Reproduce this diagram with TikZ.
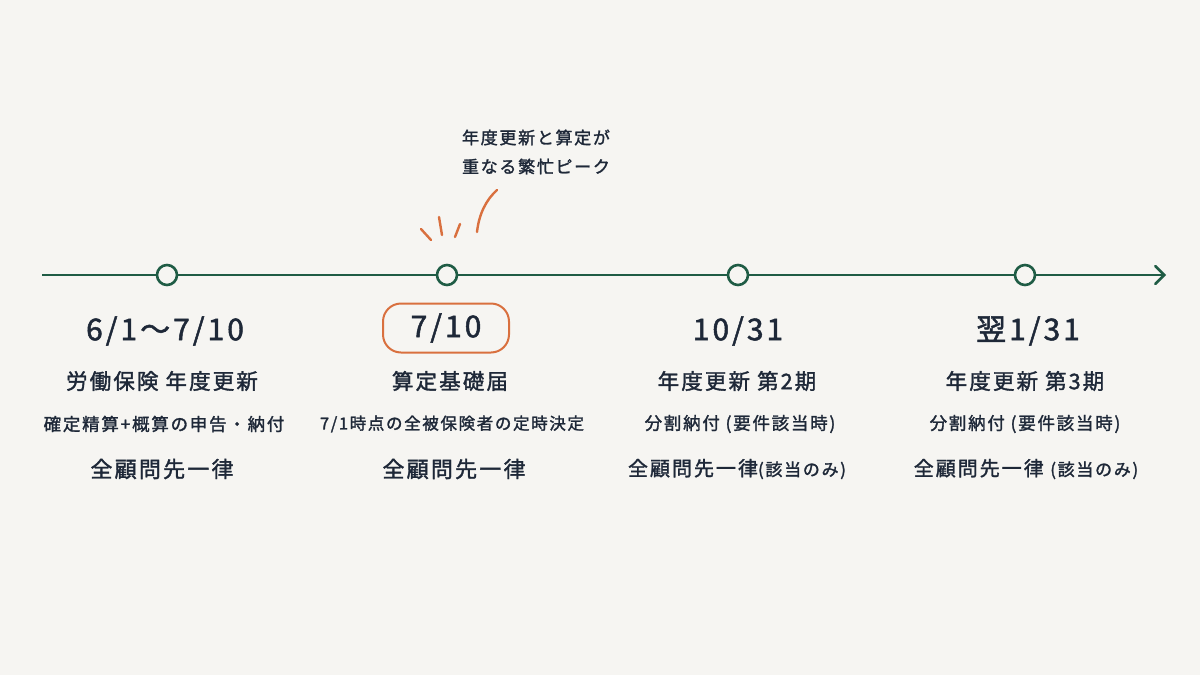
\documentclass[tikz,border=0pt]{standalone}
\usepackage{fontspec}
\setmainfont{Noto Sans CJK JP}[LetterSpace=10, FakeBold=1.6]
\usetikzlibrary{arrows.meta,positioning}
\definecolor{paper}{HTML}{F6F5F2}
\definecolor{pine}{HTML}{1F5C45}
\definecolor{rust}{HTML}{D9703F}
\definecolor{ink}{HTML}{1E2838}
\newcommand{\aside}[1]{{\fontsize{17}{19}\selectfont #1}}

\begin{document}
\begin{tikzpicture}[x=1pt, y=-1pt,
    dot/.style={circle, draw=pine, line width=2.6pt, fill=paper, minimum size=20pt, inner sep=0pt},
    date/.style={font=\fontsize{30}{32}\selectfont, text=ink},
    hot/.style={draw=rust, line width=2pt, rounded corners=18pt, minimum width=126pt, minimum height=49pt},
    head/.style={font=\fontsize{21.5}{23}\selectfont, text=ink},
    note/.style={font=\fontsize{17.5}{19}\selectfont, text=ink},
    who/.style={font=\fontsize{22}{24}\selectfont, text=ink},
    whosome/.style={font=\fontsize{20}{22}\selectfont, text=ink},
    shout/.style={font=\fontsize{17}{29}\selectfont, text=ink, align=center},
    axis/.style={draw=pine, line width=2.6pt, -{Straight Barb[length=9pt, width=18pt, line cap=round]}},
    flick/.style={draw=rust, line width=2.4pt, line cap=round}
]
\fill[paper] (0,0) rectangle (1200,675);
\useasboundingbox (0,0) rectangle (1200,675);

% timeline
\coordinate (start) at (42,275);
\coordinate (stop) at (1166,275);
\draw[axis] (start) -- (stop);
\node[dot] (p1) at (167,275) {};
\node[dot] (p2) at (447,275) {};
\node[dot] (p3) at (738,275) {};
\node[dot] (p4) at (1025,275) {};

% column 1
\node[date] (d1) at (165,331) {6/1～7/10};
\node[head] (h1) at (162,381) {労働保険 年度更新};
\node[note] (n1) at (164,424) {確定精算+概算の申告・納付};
\node[who] (w1) at (162,469) {全顧問先一律};

% column 2
\node[date, hot] (d2) at (446,328) {7/10};
\node[head] (h2) at (450,381) {算定基礎届};
\node[note, font=\fontsize{16.5}{18}\selectfont] (n2) at (452,424) {7/1時点の全被保険者の定時決定};
\node[who] (w2) at (454,469) {全顧問先一律};

% column 3
\node[date] (d3) at (738,331) {10/31};
\node[head] (h3) at (737,381) {年度更新 第2期};
\node[note] (n3) at (740,424) {分割納付 (要件該当時)};
\node[whosome] (w3) at (737,469) {全顧問先一律\aside{(該当のみ)}};

% column 4
\node[date] (d4) at (1028,331) {翌1/31};
\node[head] (h4) at (1025,381) {年度更新 第3期};
\node[note] (n4) at (1025,424) {分割納付 (要件該当時)};
\node[whosome] (w4) at (1026,469) {全顧問先一律 \aside{(該当のみ)}};

% peak callout
\node[shout] (peak) at (536,152) {年度更新と算定が\\重なる繁忙ピーク};
\draw[flick] (421,229) -- (431,240);
\draw[flick] (439,217) -- (442,235);
\draw[flick] (460,224) -- (455,237);
\draw[flick] (497,190) .. controls (486,200) and (479,214) .. (477,232);
\end{tikzpicture}
\end{document}
